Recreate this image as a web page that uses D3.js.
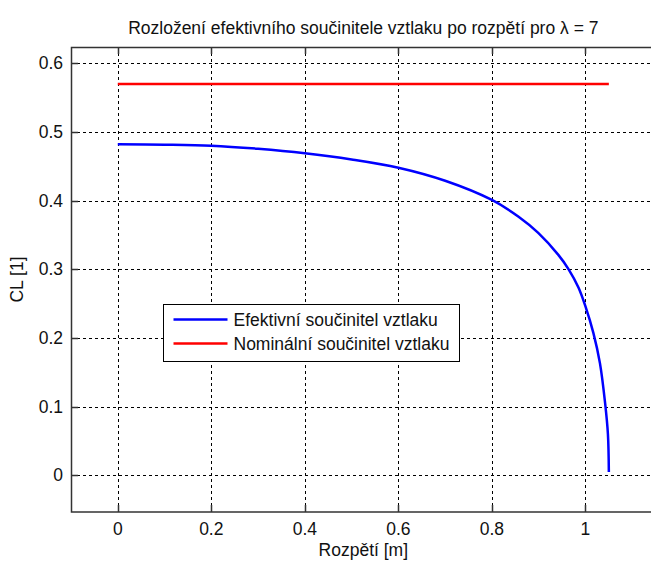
<!DOCTYPE html>
<html>
<head>
<meta charset="utf-8">
<script src="https://cdn.jsdelivr.net/npm/d3@7"></script>
<style>
  body { margin: 0; background: #fff; }
  svg text { font-family: "Liberation Sans", Arial, sans-serif; fill: #111; }
</style>
</head>
<body>
<div id="chart"></div>
<script>
// data
const spanX = [0, 0.1, 0.2, 0.3, 0.4, 0.5, 0.6, 0.7, 0.8, 0.857, 0.899, 0.942, 0.964, 0.985, 1.0, 1.017, 1.031, 1.042, 1.048, 1.05];
const clEff = [0.482, 0.4815, 0.480, 0.4755, 0.469, 0.460, 0.448, 0.429, 0.401, 0.3765, 0.353, 0.321, 0.300, 0.2735, 0.246, 0.207, 0.163, 0.105, 0.06, 0.005];
const nomX = [0, 1.05];
const clNom = [0.57, 0.57];
const xTicks = [0, 0.2, 0.4, 0.6, 0.8, 1];
const yTicks = [0, 0.1, 0.2, 0.3, 0.4, 0.5, 0.6];
const seriesNames = ["Efektivní součinitel vztlaku", "Nominální součinitel vztlaku"];
const seriesColors = ["#0000ff", "#ff0000"];

const width = 651, height = 561;
const margin = { top: 47, left: 71, bottom: 49 };

const x = d3.scaleLinear().domain([-0.1, 1.15]).range([margin.left, margin.left + 1.25 * 467.7]);
const y = d3.scaleLinear().domain([-0.0534, 0.6237]).range([height - margin.bottom, margin.top]);

const svg = d3.select("#chart").append("svg")
  .attr("width", width)
  .attr("height", height);

const x0 = x.range()[0], x1 = x.range()[1];
const y0 = y.range()[0], y1 = y.range()[1];

// grid
const grid = svg.append("g").attr("stroke", "#000").attr("stroke-width", 1).attr("stroke-dasharray", "3,3");
grid.selectAll(".gx").data(xTicks).enter().append("line")
  .attr("x1", d => Math.round(x(d)) + 0.5).attr("x2", d => Math.round(x(d)) + 0.5)
  .attr("y1", y1).attr("y2", y0);
grid.selectAll(".gy").data(yTicks).enter().append("line")
  .attr("y1", d => Math.round(y(d)) + 0.5).attr("y2", d => Math.round(y(d)) + 0.5)
  .attr("x1", x0).attr("x2", x1);

// box + ticks
const axisG = svg.append("g").attr("stroke", "#333").attr("stroke-width", 1.5).attr("fill", "none");
axisG.append("path")
  .attr("d", `M${x1},${y1 + 0.5}H${x0 + 0.5}V${y0}H${x1}`);
axisG.selectAll(".tb").data(xTicks).enter().append("path")
  .attr("d", d => `M${Math.round(x(d)) + 0.5},${y0}v-7M${Math.round(x(d)) + 0.5},${y1}v7`);
axisG.selectAll(".tl").data(yTicks).enter().append("path")
  .attr("d", d => `M${x0},${Math.round(y(d)) + 0.5}h7`);

// tick labels
svg.selectAll(".xl").data(xTicks).enter().append("text")
  .attr("x", d => x(d)).attr("y", y0 + 23)
  .attr("text-anchor", "middle").style("font-size", "17.5px")
  .text(d => d3.format("~g")(d));
svg.selectAll(".yl").data(yTicks).enter().append("text")
  .attr("x", x0 - 8).attr("y", d => y(d) + 6)
  .attr("text-anchor", "end").style("font-size", "17.5px")
  .text(d => d3.format("~g")(d));

// lines
const line = d3.line().x(d => x(d[0])).y(d => y(d[1])).curve(d3.curveCatmullRom.alpha(0.5));
svg.append("path")
  .datum(spanX.map((v, i) => [v, clEff[i]]))
  .attr("d", line).attr("fill", "none")
  .attr("stroke", seriesColors[0]).attr("stroke-width", 2.5);
svg.append("path")
  .datum(nomX.map((v, i) => [v, clNom[i]]))
  .attr("d", line).attr("fill", "none")
  .attr("stroke", seriesColors[1]).attr("stroke-width", 2.5);

// titles
svg.append("text")
  .attr("x", (x0 + x1) / 2).attr("y", 34)
  .attr("text-anchor", "middle").style("font-size", "17.5px")
  .text("Rozložení efektivního součinitele vztlaku po rozpětí pro λ = 7");
svg.append("text")
  .attr("x", (x0 + x1) / 2).attr("y", y0 + 44)
  .attr("text-anchor", "middle").style("font-size", "17.5px")
  .text("Rozpětí [m]");
svg.append("text")
  .attr("transform", `translate(23,${(y0 + y1) / 2}) rotate(-90)`)
  .attr("text-anchor", "middle").style("font-size", "17.5px")
  .text("CL [1]");

// legend
const lg = svg.append("g").attr("transform", "translate(163.5,304.5)");
lg.append("rect").attr("width", 296).attr("height", 57)
  .attr("fill", "#fff").attr("stroke", "#000").attr("stroke-width", 1);
seriesNames.forEach((name, i) => {
  lg.append("line")
    .attr("x1", 10).attr("x2", 64)
    .attr("y1", 15 + i * 24).attr("y2", 15 + i * 24)
    .attr("stroke", seriesColors[i]).attr("stroke-width", 2.5);
  lg.append("text")
    .attr("x", 70).attr("y", 21 + i * 24)
    .style("font-size", "17.5px")
    .text(name);
});
</script>
</body>
</html>
